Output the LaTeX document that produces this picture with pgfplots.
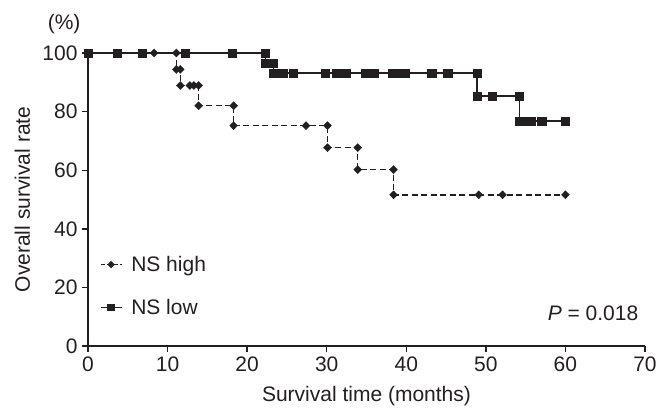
\documentclass[border=0pt]{standalone}
\usepackage{fontspec}
\setmainfont{Liberation Sans}
\usepackage{pgfplots}
\pgfplotsset{compat=1.18}
\definecolor{ink}{RGB}{35,31,32}
\newcommand{\bigf}{\fontsize{21}{25}\selectfont}

\begin{document}
\begin{tikzpicture}
\path[use as bounding box] (-88pt,-61pt) rectangle (570pt,346pt);
\begin{axis}[
    scale only axis, width=557pt, height=293pt,
    xmin=0, xmax=70, ymin=0, ymax=100,
    axis lines=left, axis line style={-, line width=1.5pt, ink},
    xtick={0,10,...,70}, ytick={0,20,...,100},
    tick align=outside, major tick length=6pt,
    tick style={line width=1.4pt, ink},
    /pgf/number format/assume math mode=true,
    tick label style={font=\bigf, text=ink},
    xticklabel style={yshift=-1pt},
    yticklabel style={xshift=-1pt},
    xlabel={Survival time (months)}, ylabel={Overall survival rate},
    label style={font=\bigf, text=ink},
    xlabel style={at={(axis description cs:0.5,-0.17)}, anchor=center},
    ylabel style={at={(axis description cs:-0.118,0.5)}, anchor=center},
    clip=false,
    legend style={draw=none, fill=none, font=\bigf, text=ink,
        at={(axis cs:1.1,20.5)}, anchor=west, row sep=22pt,
        legend cell align=left},
    legend image code/.code={\draw[mark repeat=2,mark phase=2,#1]
        plot coordinates {(0pt,0pt) (10.5pt,0pt) (21pt,0pt)};},
]
% legend entries
\addlegendimage{ink, line width=1.3pt, dash pattern=on 4pt off 2.5pt,
    mark=diamond*, mark size=2.8pt, mark options={solid, xscale=1.3}}
\addlegendentry{\hspace{7pt}NS high}
\addlegendimage{ink, line width=1.3pt, mark=square*, mark size=3pt}
\addlegendentry{\hspace{7pt}NS low}

% NS high step line (dashed)
\addplot[forget plot, ink, line width=1.5pt, dash pattern=on 6pt off 3.5pt] coordinates {
    (0,100) (11.1,100) (11.1,94.4) (11.6,94.4) (11.6,88.9) (13.9,88.9)
    (13.9,82.0) (18.3,82.0) (18.3,75.2) (30.1,75.2) (30.1,67.7) (33.9,67.7)
    (33.9,60.2) (38.4,60.2) (38.4,51.6) (60,51.6)
};
% NS low step line (solid)
\addplot[forget plot, ink, line width=1.5pt] coordinates {
    (0,100) (22.3,100) (22.3,96.6) (23.3,96.6) (23.3,93.1) (48.9,93.1)
    (48.9,85.3) (54.2,85.3) (54.2,76.8) (60,76.8)
};
% NS low marks
\addplot[forget plot, only marks, ink, mark=square*, mark size=4.2pt] coordinates {
    (0,100) (3.7,100) (6.8,100) (12.2,100) (18.1,100) (22.3,100)
    (22.3,96.6) (22.8,96.6) (23.3,96.6)
    (23.3,93.1) (23.9,93.1) (24.5,93.1) (25.8,93.1) (29.8,93.1) (31.2,93.1)
    (31.8,93.1) (32.4,93.1) (34.8,93.1) (35.9,93.1) (38.2,93.1) (38.8,93.1)
    (39.9,93.1) (43.2,93.1) (45.2,93.1) (48.9,93.1)
    (48.9,85.3) (50.8,85.3) (54.2,85.3)
    (54.2,76.8) (54.7,76.8) (55.2,76.8) (55.7,76.8) (57.0,76.8) (60.0,76.8)
};
% NS high marks
\addplot[forget plot, only marks, ink, mark=diamond*, mark size=4pt, mark options={xscale=1.3}] coordinates {
    (8.3,100) (11.1,100)
    (11.1,94.4) (11.6,94.4)
    (11.6,88.9) (12.8,88.9) (13.3,88.9) (13.9,88.9)
    (13.9,82.0) (18.3,82.0)
    (18.3,75.2) (27.4,75.2) (30.1,75.2)
    (30.1,67.7) (33.9,67.7)
    (33.9,60.2) (38.4,60.2)
    (38.4,51.6) (49.1,51.6) (52.1,51.6) (60.0,51.6)
};
\node[anchor=east, font=\bigf, text=ink] at (axis cs:69.6,11.3) {\textit{P} = 0.018};
\node[anchor=center, font=\bigf, text=ink] at (axis cs:-3.0,109.9) {(\%)};
\end{axis}
\end{tikzpicture}
\end{document}
